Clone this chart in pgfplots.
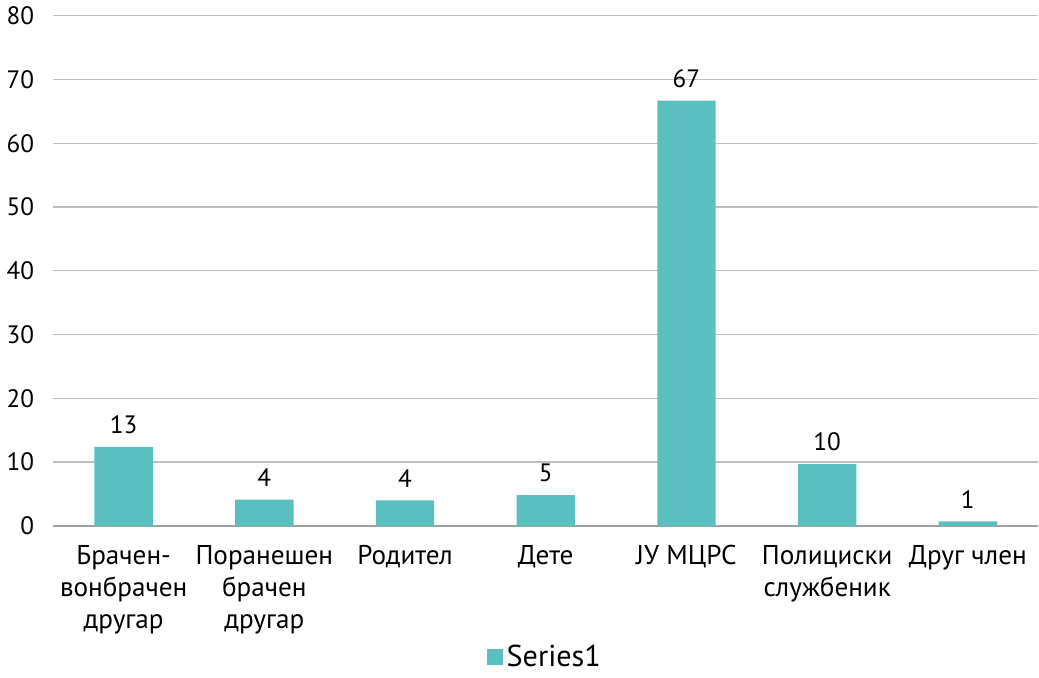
\documentclass[border=0pt]{standalone}
\usepackage{fontspec}
\setmainfont{PT Sans}
\usepackage{pgfplots}
\pgfplotsset{compat=1.18}
\definecolor{barc}{RGB}{91,191,192}
\definecolor{gridc}{RGB}{190,190,190}
\definecolor{axc}{RGB}{160,160,160}
\begin{document}
\begin{tikzpicture}
\begin{axis}[
  scale only axis,
  width=489.5pt, height=253.5pt,
  xmin=-0.5, xmax=6.5,
  ymin=0, ymax=80,
  ytick={0,10,...,80},
  ymajorgrids,
  grid style={gridc, line width=0.6pt},
  axis x line*=bottom,
  axis y line*=left,
  y axis line style={draw=none},
  x axis line style={axc, line width=0.8pt, -},
  xtick={0,...,6},
  xticklabels={{Брачен-\\вонбрачен\\другар},{Поранешен\\брачен\\другар},{Родител},{Дете},{ЈУ МЦРС},{Полициски\\службеник},{Друг член}},
  xticklabel style={align=center, font=\fontsize{13.5}{16}\selectfont, anchor=north, yshift=-2pt},
  major x tick style={draw=none},
  extra x ticks={0.5,1.5,...,5.5},
  extra x tick labels={},
  extra x tick style={tick style={draw=axc, line width=0.8pt}, major tick length=4pt, tick align=outside, grid=none},
  yticklabel style={font=\fontsize{12.5}{14}\selectfont, xshift=-6pt},
  /pgf/number format/assume math mode=true,
  ytick style={draw=none},
  ybar, bar width=0.415,
  nodes near coords,
  point meta=explicit symbolic,
  every node near coord/.append style={font=\fontsize{12.5}{14}\selectfont, yshift=3pt},
  legend style={at={(0.5,-0.258)}, anchor=center, draw=none, font=\fontsize{15}{18}\selectfont, legend cell align=left},
  legend image code/.code={\fill[barc] (0pt,-4pt) rectangle (8pt,4pt);},
  clip=false,
]
\addplot[fill=barc, draw=none] table[meta=lab] {
x y lab
0 12.4 13
1 4.1 4
2 4.0 4
3 4.8 5
4 66.7 67
5 9.7 10
6 0.7 1
};
\addlegendentry{Series1}
\end{axis}
\end{tikzpicture}
\end{document}
